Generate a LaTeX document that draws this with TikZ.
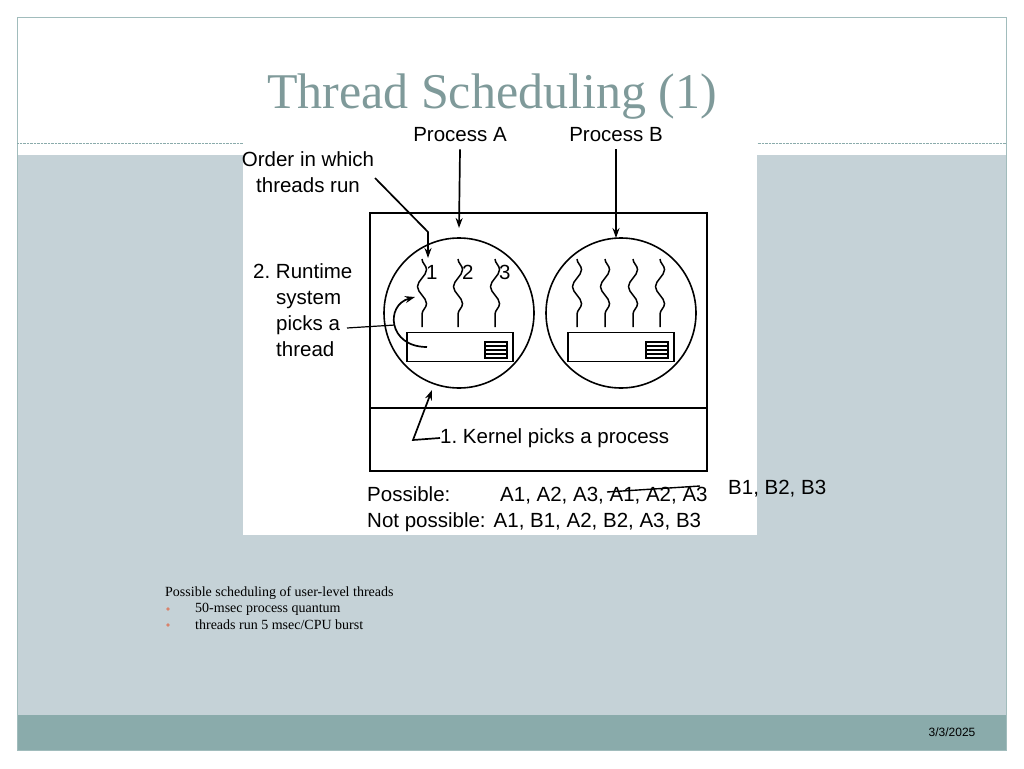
\documentclass[tikz,border=0pt]{standalone}
\usepackage{fontspec}
\setmainfont{Liberation Serif}
\setsansfont{Liberation Sans}
\usetikzlibrary{positioning,decorations.pathmorphing,arrows.meta}
\definecolor{fond}{HTML}{C5D2D7}
\definecolor{bande}{HTML}{8AABAB}
\definecolor{titre}{HTML}{7F9A9A}
\definecolor{puce}{HTML}{D9826A}
\frenchspacing
\tikzset{legende/.style={font=\sffamily\fontsize{20.5}{26}\selectfont,inner sep=0pt},
fil/.style={decorate,decoration={snake,segment length=34pt,amplitude=4.5pt},line width=1.5pt},
fleche/.style={line width=1.7pt,-{Stealth[length=10pt,width=7pt]}},
pile/.style={draw,line width=1.6pt,minimum width=106pt,minimum height=29pt,inner sep=0pt},
petit/.style={font=\fontsize{14}{16}\selectfont,inner sep=0pt,anchor=west}}
\begin{document}
\begin{tikzpicture}[x=1pt,y=-1pt]
\useasboundingbox (0,0) rectangle (1024,768);
% slide
\fill[white] (0,0) rectangle (1024,768);
\fill[fond] (17,155) rectangle (1006,715);
\fill[bande] (17,715) rectangle (1006,750);
\draw[bande!80] (17,17) rectangle (1006,750);
\draw[bande,densely dotted] (17,143) -- (1006,143);
\node[font=\fontsize{50}{56}\selectfont,text=titre,inner sep=0pt] (titre) at (492,97) {Thread Scheduling (1)};
% figure
\fill[white] (243,120) rectangle (757,535);
\draw[line width=1.8pt] (370,213) rectangle (707,471);
\draw[line width=1.8pt] (370,408) -- (707,408);
\node[draw,circle,line width=1.6pt,minimum size=150pt] (procA) at (459,313) {};
\node[draw,circle,line width=1.6pt,minimum size=150pt] (procB) at (621,313) {};
\node[pile] (pileA) at (460,347) {};
\node[pile] (pileB) at (621,347) {};
\foreach \p/\x in {A/496,B/657}{
  \draw[line width=1.4pt] (\x-11,342) rectangle (\x+11,358);
  \foreach \y in {346,350,354} \draw[line width=1.3pt] (\x-11,\y) -- (\x+11,\y);
}
\foreach \x/\n in {422/1,458/2,495/3}{
  \draw[fil] (\x,259) -- (\x,327);
  \node[legende,anchor=west] (num\n) at (\x+4,272) {\n};
}
\foreach \x in {577,605,633,660} \draw[fil] (\x,259) -- (\x,327);
\node[legende] (nomA) at (460,135) {Process A};
\node[legende] (nomB) at (616,135) {Process B};
\draw[fleche] (nomA.south)+(0,7) -- (459,228);
\draw[fleche] (nomB.south)+(0,7) -- (616,238);
\node[legende,align=center] (ordre) at (308,172) {Order in which\\threads run};
\coordinate (coude) at (428,232);
\draw[fleche] (375,178) -- (coude) -- (428,258);
\node[legende,align=left,anchor=north west] (runtime) at (253,263) {2. Runtime\\\hspace*{23pt}system\\\hspace*{23pt}picks a\\\hspace*{23pt}thread};
\coordinate (choix) at (395,325);
\draw[line width=1.2pt] (347,328) -- (choix);
\draw[fleche] (427,347) .. controls (388,347) and (385,305) .. (415,297);
\node[legende,anchor=west] (noyau) at (440,438) {1. Kernel picks a process};
\draw[fleche] (noyau.west) -- (413,440) -- (432,390);
\node[legende,anchor=base west] (possible) at (367,501) {Possible:};
\node[legende,anchor=base west] (suite) at (500,501) {A1, A2, A3, A1, A2, A3};
\draw[line width=1.4pt] (607,492) -- (700,486);
\node[legende,anchor=base west] (impossible) at (367,527) {Not possible:\hspace{8pt}A1, B1, A2, B2, A3, B3};
\node[legende,anchor=west] (bfils) at (728,489) {B1, B2, B3};
% texte
\node[petit] (legendefig) at (165,593) {Possible scheduling of user-level threads};
\foreach \y/\t in {609/{50-msec process quantum},625/{threads run 5 msec/CPU burst}}{
  \fill[puce] (168,\y) circle (1.8pt);
  \node[petit] at (195,\y) {\t};
}
\node[font=\sffamily\fontsize{12}{14}\selectfont,inner sep=0pt] (date) at (952,732) {3/3/2025};
\end{tikzpicture}
\end{document}
